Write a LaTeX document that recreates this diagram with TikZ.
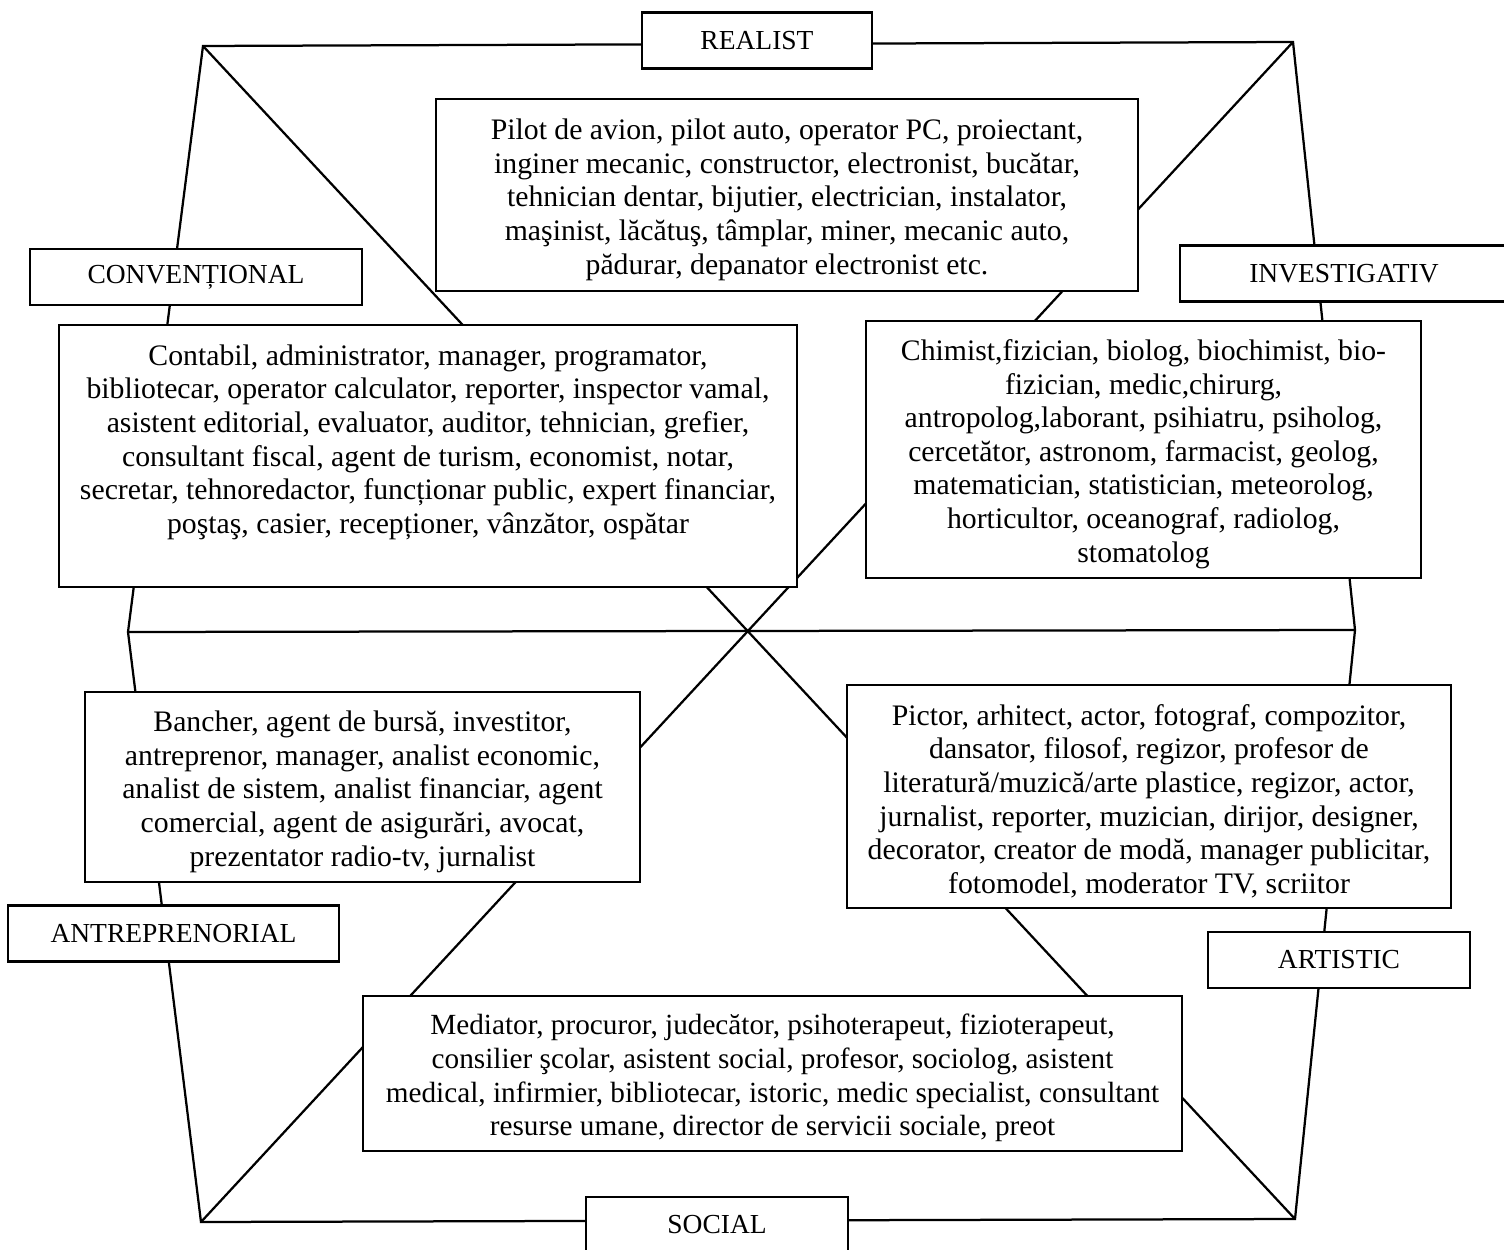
\documentclass[tikz,border=0pt]{standalone}
\usepackage{fontspec}
\setmainfont{Liberation Serif}
\usepackage{tikz}

\newcommand{\rand}{\rule{0pt}{12pt}}

\tikzset{
  tip/.style = {draw, fill = white, line width = 0.9pt, minimum height = 22.4pt,
    inner sep = 0pt, font = \fontsize{11}{13}\selectfont},
  lista/.style = {draw, fill = white, line width = 0.9pt, align = center,
    inner sep = 0pt, font = \fontsize{11.9}{13.44}\selectfont}
}

\begin{document}
\begin{tikzpicture}[x = 0.4pt, y = -0.4pt]
\useasboundingbox (0, 0) rectangle (1504, 1250);
\clip (0, 0) rectangle (1504, 1250);
\fill[white] (0, 0) rectangle (1504, 1250);
% colturile hexagonului
\coordinate (rc) at (203, 46);
\coordinate (ri) at (1293, 42);
\coordinate (ia) at (1355, 630);
\coordinate (as) at (1295, 1219);
\coordinate (se) at (201, 1222);
\coordinate (ec) at (128, 632);
\draw[line width = 0.9pt] (rc) -- (ri) -- (ia) -- (as) -- (se) -- (ec) -- cycle;
\draw[line width = 0.9pt] (rc) -- (as);
\draw[line width = 0.9pt] (ri) -- (se);
\draw[line width = 0.9pt] (ec) -- (ia);
% tipurile
\node[tip, minimum width = 92pt] (realist) at (757, 40.5) {REALIST};
\node[tip, minimum width = 132.8pt] (conv) at (196, 277) {CONVENȚIONAL};
\node[tip, minimum width = 131.2pt] (inv) at (1344, 273.5) {INVESTIGATIV};
\node[tip, minimum width = 132.4pt] (antr) at (173.5, 933.5) {ANTREPRENORIAL};
\node[tip, minimum width = 104.8pt] (art) at (1339, 960) {ARTISTIC};
\node[tip, minimum width = 104.8pt] (soc) at (717, 1225) {SOCIAL};
% profesiile
\node[lista, minimum width = 280.8pt, minimum height = 76.8pt] (realist-p) at (787, 195)
  {\rand Pilot de avion, pilot auto, operator PC, proiectant,\\
   inginer mecanic, constructor, electronist, bucătar,\\
   tehnician dentar, bijutier, electrician, instalator,\\
   maşinist, lăcătuş, tâmplar, miner, mecanic auto,\\
   pădurar, depanator electronist etc.};
\node[lista, minimum width = 295.2pt, minimum height = 104.8pt] (conv-p) at (428, 456)
  {\rand Contabil, administrator, manager, programator,\\
   bibliotecar, operator calculator, reporter, inspector vamal,\\
   asistent editorial, evaluator, auditor, tehnician, grefier,\\
   consultant fiscal, agent de turism, economist, notar,\\
   secretar, tehnoredactor, funcționar public, expert financiar,\\
   poştaş, casier, recepționer, vânzător, ospătar\\[4pt] \mbox{}};
\node[lista, minimum width = 222pt, minimum height = 102.8pt] (inv-p) at (1143.5, 449.5)
  {\rand Chimist,fizician, biolog, biochimist, bio-\\
   fizician, medic,chirurg,\\
   antropolog,laborant, psihiatru, psiholog,\\
   cercetător, astronom, farmacist, geolog,\\
   matematician, statistician, meteorolog,\\
   horticultor, oceanograf, radiolog,\\
   stomatolog};
\node[lista, minimum width = 222pt, minimum height = 76pt] (antr-p) at (362.5, 787)
  {\rand Bancher, agent de bursă, investitor,\\
   antreprenor, manager, analist economic,\\
   analist de sistem, analist financiar, agent\\
   comercial, agent de asigurări, avocat,\\
   prezentator radio-tv, jurnalist};
\node[lista, minimum width = 241.6pt, minimum height = 89.2pt] (art-p) at (1149, 796.5)
  {\rand Pictor, arhitect, actor, fotograf, compozitor,\\
   dansator, filosof, regizor, profesor de\\
   literatură/muzică/arte plastice, regizor, actor,\\
   jurnalist, reporter, muzician, dirijor, designer,\\
   decorator, creator de modă, manager publicitar,\\
   fotomodel, moderator TV, scriitor};
\node[lista, minimum width = 327.6pt, minimum height = 62pt,
  font = \fontsize{11.7}{13.44}\selectfont] (soc-p) at (772.5, 1073.5)
  {\rand Mediator, procuror, judecător, psihoterapeut, fizioterapeut,\\
   consilier şcolar, asistent social, profesor, sociolog, asistent\\
   medical, infirmier, bibliotecar, istoric, medic specialist, consultant\\
   resurse umane, director de servicii sociale, preot};
\end{tikzpicture}
\end{document}
